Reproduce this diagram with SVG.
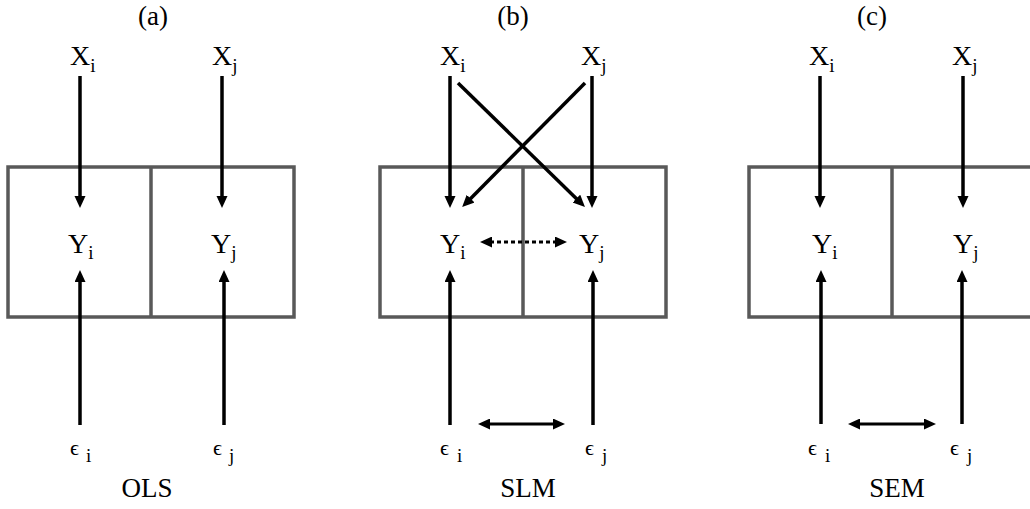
<svg xmlns="http://www.w3.org/2000/svg" width="1030" height="509" viewBox="0 0 1030 509">
<style>
text{font-family:'Liberation Serif','Times New Roman',serif;fill:#000}
.box{fill:none;stroke:#595959;stroke-width:3.5}
.div{stroke:#595959;stroke-width:3.5}
.ar{stroke:#000;stroke-width:3.5;fill:none;marker-end:url(#ah)}
.dbl{stroke:#000;stroke-width:3;fill:none;marker-end:url(#ah);marker-start:url(#ahs)}
.dot{stroke:#000;stroke-width:3;fill:none;stroke-dasharray:4 3;marker-end:url(#ah);marker-start:url(#ahs)}
</style>
<defs>
<marker id="ah" markerUnits="userSpaceOnUse" markerWidth="14" markerHeight="12" refX="2" refY="5.5" orient="auto">
<path d="M0,0 L12,5.5 L0,11 z" fill="#000"/>
</marker>
<marker id="ahs" markerUnits="userSpaceOnUse" markerWidth="14" markerHeight="12" refX="10" refY="5.5" orient="auto">
<path d="M12,0 L0,5.5 L12,11 z" fill="#000"/>
</marker>
</defs>
<g id="panel-a">
<rect class="box" x="8" y="167" width="286" height="150"/>
<line class="div" x1="151" y1="167" x2="151" y2="317"/>
<text font-family="Liberation Serif" font-size="27" text-anchor="middle" x="153" y="25">(a)</text>
<text font-family="Liberation Serif" font-size="27" text-anchor="middle" x="147" y="497">OLS</text>
</g>
<g id="a-Xi"><text font-family="Liberation Serif" font-size="28" x="70" y="65">X<tspan font-size="19" dy="7">i</tspan></text></g>
<g id="a-Xj"><text font-family="Liberation Serif" font-size="28" x="212" y="65">X<tspan font-size="19" dy="7">j</tspan></text></g>
<g id="a-Yi"><text font-family="Liberation Serif" font-size="28" x="68" y="253">Y<tspan font-size="19" dy="6">i</tspan></text></g>
<g id="a-Yj"><text font-family="Liberation Serif" font-size="28" x="211" y="253">Y<tspan font-size="19" dy="6">j</tspan></text></g>
<g id="a-ei"><text font-family="Liberation Serif" font-size="22" x="70" y="455">ϵ<tspan font-size="19" x="86" dy="7">i</tspan></text></g>
<g id="a-ej"><text font-family="Liberation Serif" font-size="22" x="213" y="455">ϵ<tspan font-size="19" x="229" dy="7">j</tspan></text></g>
<g id="panel-b">
<rect class="box" x="380" y="167" width="286" height="150"/>
<line class="div" x1="523" y1="167" x2="523" y2="317"/>
<text font-family="Liberation Serif" font-size="27" text-anchor="middle" x="513" y="25">(b)</text>
<text font-family="Liberation Serif" font-size="27" text-anchor="middle" x="528" y="497">SLM</text>
</g>
<g id="b-Xi"><text font-family="Liberation Serif" font-size="28" x="440" y="65">X<tspan font-size="19" dy="7">i</tspan></text></g>
<g id="b-Xj"><text font-family="Liberation Serif" font-size="28" x="581" y="65">X<tspan font-size="19" dy="7">j</tspan></text></g>
<g id="b-Yi"><text font-family="Liberation Serif" font-size="28" x="440" y="253">Y<tspan font-size="19" dy="6">i</tspan></text></g>
<g id="b-Yj"><text font-family="Liberation Serif" font-size="28" x="579" y="253">Y<tspan font-size="19" dy="6">j</tspan></text></g>
<g id="b-ei"><text font-family="Liberation Serif" font-size="22" x="440" y="455">ϵ<tspan font-size="19" x="457" dy="7">i</tspan></text></g>
<g id="b-ej"><text font-family="Liberation Serif" font-size="22" x="585" y="455">ϵ<tspan font-size="19" x="602" dy="7">j</tspan></text></g>
<g id="panel-c">
<rect class="box" x="749" y="167" width="300" height="150"/>
<line class="div" x1="892" y1="167" x2="892" y2="317"/>
<text font-family="Liberation Serif" font-size="27" text-anchor="middle" x="872" y="25">(c)</text>
<text font-family="Liberation Serif" font-size="27" text-anchor="middle" x="897" y="497">SEM</text>
</g>
<g id="c-Xi"><text font-family="Liberation Serif" font-size="28" x="809" y="65">X<tspan font-size="19" dy="7">i</tspan></text></g>
<g id="c-Xj"><text font-family="Liberation Serif" font-size="28" x="952" y="65">X<tspan font-size="19" dy="7">j</tspan></text></g>
<g id="c-Yi"><text font-family="Liberation Serif" font-size="28" x="812" y="253">Y<tspan font-size="19" dy="6">i</tspan></text></g>
<g id="c-Yj"><text font-family="Liberation Serif" font-size="28" x="953" y="253">Y<tspan font-size="19" dy="6">j</tspan></text></g>
<g id="c-ei"><text font-family="Liberation Serif" font-size="22" x="808" y="455">ϵ<tspan font-size="19" x="825" dy="7">i</tspan></text></g>
<g id="c-ej"><text font-family="Liberation Serif" font-size="22" x="950" y="455">ϵ<tspan font-size="19" x="967" dy="7">j</tspan></text></g>
<g id="connectors">
<line class="ar" x1="80" y1="76" x2="80" y2="198"/>
<line class="ar" x1="222" y1="76" x2="222" y2="198"/>
<line class="ar" x1="80" y1="425" x2="80" y2="280"/>
<line class="ar" x1="224" y1="425" x2="224" y2="280"/>
<line class="ar" x1="450" y1="76" x2="450" y2="198"/>
<line class="ar" x1="592" y1="76" x2="592" y2="198"/>
<line class="ar" x1="458" y1="83" x2="577.8" y2="200"/>
<line class="ar" x1="585" y1="83" x2="469.2" y2="200"/>
<line class="dot" x1="490" y1="242" x2="557" y2="242"/>
<line class="ar" x1="450" y1="425" x2="450" y2="280"/>
<line class="ar" x1="593" y1="425" x2="593" y2="280"/>
<line class="dbl" x1="488" y1="424" x2="555" y2="424"/>
<line class="ar" x1="820" y1="76" x2="820" y2="198"/>
<line class="ar" x1="963" y1="76" x2="963" y2="198"/>
<line class="ar" x1="821" y1="424" x2="821" y2="280"/>
<line class="ar" x1="962" y1="424" x2="962" y2="280"/>
<line class="dbl" x1="858" y1="424" x2="926" y2="424"/>
</g>
</svg>
